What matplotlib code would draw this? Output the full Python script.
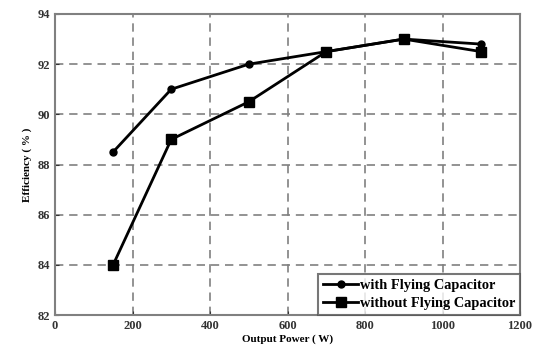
import matplotlib
matplotlib.use("Agg")
import matplotlib.pyplot as plt

power = [150, 300, 500, 700, 900, 1100]
eff_with = [88.5, 91.0, 92.0, 92.5, 93.0, 92.8]
eff_without = [84.0, 89.0, 90.5, 92.5, 93.0, 92.5]
xticks = [0, 200, 400, 600, 800, 1000, 1200]
yticks = [82, 84, 86, 88, 90, 92, 94]

plt.rcParams['font.family'] = ['Liberation Serif', 'DejaVu Serif']
plt.rcParams['font.weight'] = 'bold'

fig = plt.figure(figsize=(5.44, 3.52), dpi=100)
ax = fig.add_axes([55/544, 1-315/352, (520-55)/544, (315-14)/352])

ax.plot(power, eff_with, color='black', lw=2, marker='o', ms=5, label='with Flying Capacitor')
ax.plot(power, eff_without, color='black', lw=2, marker='s', ms=6.5, label='without Flying Capacitor')

ax.set_xlim(0, 1200)
ax.set_ylim(82, 94)
ax.set_xticks(xticks)
ax.set_yticks(yticks)
ax.tick_params(labelsize=9, length=3, direction='in', colors='#333333')
for lab in ax.get_xticklabels() + ax.get_yticklabels():
    lab.set_fontweight('bold')
ax.grid(True, linestyle=(0, (5, 3.5)), color='#808080', lw=1.2)
for s in ax.spines.values():
    s.set_color('#808080')
    s.set_linewidth(1.5)

ax.set_xlabel('Output Power ( W)', fontsize=8, fontweight='bold', labelpad=2)
ax.set_ylabel('Efficiency ( % )', fontsize=8, fontweight='bold', labelpad=4)

leg = ax.legend(loc='lower right', fontsize=10.4, frameon=True, fancybox=False,
                edgecolor='#555555', handlelength=2.4, handletextpad=0.1,
                borderaxespad=0.0, labelspacing=0.3, borderpad=0.35)
leg.get_frame().set_linewidth(1.5)
for t in leg.get_texts():
    t.set_fontweight('bold')

fig.savefig('out.png', dpi=100)
